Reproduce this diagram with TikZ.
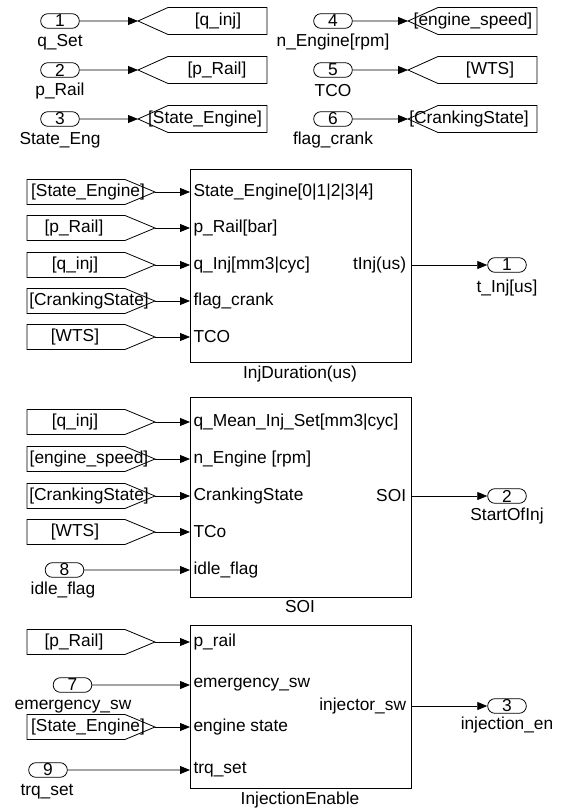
\documentclass[tikz,border=0pt]{standalone}
\usepackage{fontspec}
\setmainfont{Liberation Sans}
\usetikzlibrary{arrows.meta,shapes.misc}

\begin{document}
\begin{tikzpicture}[x=0.75pt, y=-0.75pt,
  every node/.style={font=\fontsize{13}{15}\selectfont, inner sep=0pt},
  inport/.style={draw, line width=0.6pt, rounded rectangle, minimum width=29pt, minimum height=11pt},
  tag/.style={draw, line width=0.6pt},
  sig/.style={line width=0.6pt, -{Triangle[length=7.5pt,width=6pt]}},
  subsys/.style={draw, line width=0.8pt, anchor=north west, minimum width=165.75pt},
  pin/.style={anchor=west, inner xsep=2.5pt},
  pout/.style={anchor=east, inner xsep=3.5pt}]
  \useasboundingbox (0,0) rectangle (566,809);

  % Inports feeding goto tags
  \foreach \n/\x/\y/\lbl/\tip/\tx/\txt in {
    1/60/21/q\_Set/138/218/{[q\_inj]},
    2/60/70/p\_Rail/138/217/{[p\_Rail]},
    3/60/119/State\_Eng/138/205/{[State\_Engine]},
    4/333/21/n\_Engine[rpm]/408/473/{[engine\_speed]},
    5/333/70/TCO/408/490/{[WTS]},
    6/333/119/flag\_crank/408/469/{[CrankingState]}%
  }{
    \node[inport] (in\n) at (\x,\y) {\n};
    \node (in\n-name) at (\x,\y+21) {\lbl};
    \draw[tag] (\tip,\y) -- (\tip+30,\y-13.5) -- (\tip+129,\y-13.5) -- (\tip+129,\y+13.5) -- (\tip+30,\y+13.5) -- cycle;
    \coordinate (goto\n) at (\tip,\y);
    \node (goto\n-name) at (\tx,\y) {\txt};
    \draw[sig] (in\n) -- (goto\n);
  }

  % InjDuration(us)
  \node[subsys, minimum height=144.75pt] (injdur) at (190,169) {};
  \node (injdur-name) at (300,374) {InjDuration(us)};
  \foreach \i/\y/\txt in {1/192/State\_Engine[0|1|2|3|4], 2/228/p\_Rail[bar],
    3/265/q\_Inj[mm3|cyc], 4/301/flag\_crank, 5/337/TCO}
    \node[pin] (injdur-in\i) at (190,\y) {\txt};
  \node[pout] (injdur-out) at (411,265) {tInj(us)};
  \node[inport] (out1) at (507,265) {1};
  \node (out1-name) at (507,288) {t\_Inj[us]};
  \draw[sig] (injdur-out.east) -- (out1.west);

  % SOI
  \node[subsys, minimum height=150pt] (soi) at (190,397) {};
  \node (soi-name) at (300,607) {SOI};
  \foreach \i/\y/\txt in {1/422/q\_Mean\_Inj\_Set[mm3|cyc], 2/459/n\_Engine [rpm],
    3/496/CrankingState, 4/532/TCo, 5/570/idle\_flag}
    \node[pin] (soi-in\i) at (190,\y) {\txt};
  \node[pout] (soi-out) at (411,496) {SOI};
  \node[inport] (out2) at (507,496) {2};
  \node (out2-name) at (507,516) {StartOfInj};
  \draw[sig] (soi-out.east) -- (out2.west);

  % InjectionEnable
  \node[subsys, minimum height=122.25pt] (injen) at (190,625) {};
  \node (injen-name) at (300,800) {InjectionEnable};
  \foreach \i/\y/\txt in {1/642/p\_rail, 2/685/emergency\_sw, 3/727/engine state, 4/770/trq\_set}
    \node[pin] (injen-in\i) at (190,\y) {\txt};
  \node[pout] (injen-out) at (411,706) {injector\_sw};
  \node[inport] (out3) at (507,706) {3};
  \node (out3-name) at (507,725) {injection\_en};
  \draw[sig] (injen-out.east) -- (out3.west);

  % From tags into the blocks
  \foreach \y/\tx/\txt/\p in {
    192/88/{[State\_Engine]}/injdur-in1,
    228/74/{[p\_Rail]}/injdur-in2,
    265/75/{[q\_inj]}/injdur-in3,
    301/89/{[CrankingState]}/injdur-in4,
    337/75/{[WTS]}/injdur-in5,
    422/75/{[q\_inj]}/soi-in1,
    459/89/{[engine\_speed]}/soi-in2,
    496/89/{[CrankingState]}/soi-in3,
    532/75/{[WTS]}/soi-in4,
    642/74/{[p\_Rail]}/injen-in1,
    727/88/{[State\_Engine]}/injen-in3%
  }{
    \draw[tag] (27,\y-12.5) -- (125,\y-12.5) -- (155,\y) -- (125,\y+12.5) -- (27,\y+12.5) -- cycle;
    \node (from-\p) at (\tx,\y) {\txt};
    \coordinate (from-\p-tip) at (155,\y);
    \draw[sig] (from-\p-tip) -- (\p.west);
  }

  % Inports into the blocks
  \node[inport] (in8) at (64.5,570) {8};
  \node (in8-name) at (63,590) {idle\_flag};
  \draw[sig] (in8) -- (soi-in5.west);
  \node[inport] (in7) at (72.5,685) {7};
  \node (in7-name) at (73,707) {emergency\_sw};
  \draw[sig] (in7) -- (injen-in2.west);
  \node[inport] (in9) at (48,770) {9};
  \node (in9-name) at (47,792) {trq\_set};
  \draw[sig] (in9) -- (injen-in4.west);
\end{tikzpicture}
\end{document}
